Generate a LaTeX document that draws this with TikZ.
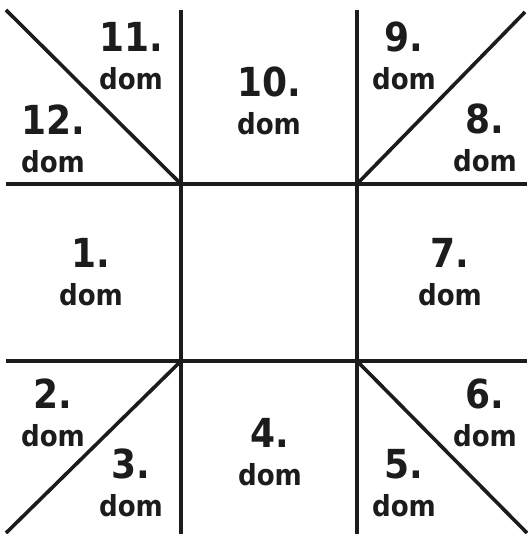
\documentclass[tikz,border=0pt]{standalone}
\usepackage{fontspec}
\usepackage{tikz}
\usetikzlibrary{positioning}
\newfontfamily\housefont[FakeStretch=0.9]{DejaVu Sans}
\definecolor{ink}{HTML}{1C1C1C}
\tikzset{
  grid/.style   = {draw=ink, line width=3.6pt},
  num/.style    = {anchor=base, inner sep=0pt, text=ink, font=\housefont\bfseries\fontsize{40}{40}\selectfont},
  domlbl/.style = {anchor=base, inner sep=0pt, text=ink, font=\housefont\bfseries\fontsize{29}{29}\selectfont},
}
\newcommand{\house}[4]{%
  \node[num] (n#1) at (#2,#3) {#1.};
  \node[domlbl] (d#1) at (#2,#3+38) {#4};
}
\begin{document}
\begin{tikzpicture}[x=1pt, y=-1pt]
  \useasboundingbox (0,0) rectangle (527,534);
  % corner points of the inner square
  \coordinate (tl) at (181,184); \coordinate (tr) at (357,184);
  \coordinate (bl) at (181,361); \coordinate (br) at (357,361);
  \coordinate (ctl) at (6,10);   \coordinate (ctr) at (525,12);
  \coordinate (cbl) at (6,533);  \coordinate (cbr) at (527,533);
  \coordinate (vtl) at (181,10); \coordinate (vtr) at (357,10);
  \coordinate (vbl) at (181,534); \coordinate (vbr) at (357,534);
  \coordinate (hlt) at (6,184);  \coordinate (hrt) at (527,184);
  \coordinate (hlb) at (6,361);  \coordinate (hrb) at (527,361);

  \draw[grid] (vtl) -- (vbl);
  \draw[grid] (vtr) -- (vbr);
  \draw[grid] (hlt) -- (hrt);
  \draw[grid] (hlb) -- (hrb);
  \draw[grid] (ctl) -- (tl);
  \draw[grid] (tr) -- (ctr);
  \draw[grid] (bl) -- (cbl);
  \draw[grid] (br) -- (cbr);

  % house labels
  \house{1}{91}{267}{dom}
  \house{2}{53}{408}{dom}
  \house{3}{131}{478}{dom}
  \house{4}{270}{447}{dom}
  \house{5}{404}{478}{dom}
  \house{6}{485}{408}{dom}
  \house{7}{450}{267}{dom}
  \house{8}{485}{134}{dom}
  \house{9}{404}{52}{dom}
  \house{10}{269}{97}{dom}
  \house{11}{131}{52}{dom}
  \house{12}{53}{135}{dom}
\end{tikzpicture}
\end{document}
